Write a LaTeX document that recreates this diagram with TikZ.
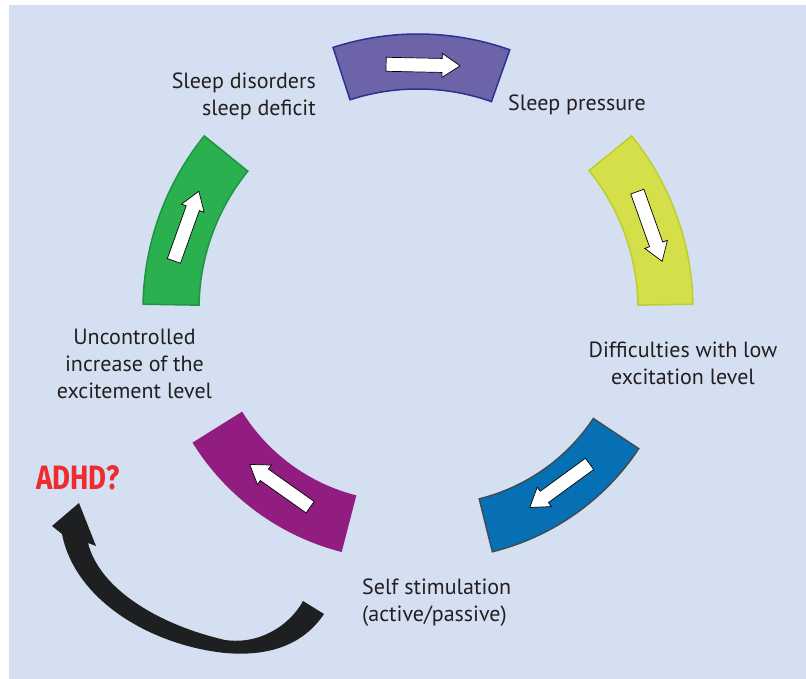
\documentclass[tikz,border=0pt]{standalone}
\usepackage{fontspec}
\setmainfont{PT Sans}
\newfontfamily\adhdfont{Fira Sans}
\usetikzlibrary{calc}
\definecolor{bg}{HTML}{D4E0F1}
\definecolor{txt}{HTML}{231F20}
\definecolor{purplefill}{HTML}{6C63A8}
\definecolor{purpleline}{HTML}{2E3192}
\definecolor{yellowfill}{HTML}{D4DF4A}
\definecolor{yellowline}{HTML}{BCCF2F}
\definecolor{bluefill}{HTML}{0770B4}
\definecolor{blueline}{HTML}{3D4D57}
\definecolor{magentafill}{HTML}{911D80}
\definecolor{greenfill}{HTML}{2AB04F}
\definecolor{greenline}{HTML}{1F9444}
\definecolor{adhdred}{HTML}{EE2B2F}
\definecolor{curvearrow}{HTML}{1E1F21}
\newcommand\ringseg[6]{% style, center, a1, a2, r1, r2
  \draw[#1] ([shift={(#3:#5pt)}]#2) arc[start angle=#3, end angle=#4, radius=#5pt]
    -- ([shift={(#4:#6pt)}]#2) arc[start angle=#4, end angle=#3, radius=#6pt] -- cycle;}
\newcommand\cycarrow[3]{% center, angle, radius
  \draw[warrow, shift={(#1)}, rotate=#2] (#3-7,37) -- (#3-7,-19) -- (#3-12,-19) -- (#3,-37)
    -- (#3+12,-19) -- (#3+7,-19) -- (#3+7,37) -- cycle;}
\begin{document}
\begin{tikzpicture}[x=1pt,y=1pt,
  lbl/.style={text=txt, font=\fontsize{22}{27}\selectfont, inner sep=0pt},
  seg/.style={line width=1.5pt, line join=miter},
  warrow/.style={fill=white, draw=black, line width=0.7pt, line join=miter}]
\useasboundingbox (0,0) rectangle (806,679);
\fill[bg] (9,0) rectangle (806,674);
\coordinate (c1) at (418,370);
\coordinate (c2) at (433,367);
\coordinate (c3) at (403,367);
% ring segments
\ringseg{seg, fill=purplefill, draw=purpleline}{c1}{70.5}{108}{220}{275}
\ringseg{seg, fill=yellowfill, draw=yellowline}{c1}{1}{39}{220}{275}
\ringseg{seg, fill=bluefill, draw=blueline}{c2}{-33.6}{-76.1}{192.5}{247}
\ringseg{seg, fill=magentafill, draw=magentafill}{c3}{-104.5}{-148}{190}{247}
\ringseg{seg, fill=greenfill, draw=greenline}{c1}{141}{179}{219}{275}
% white arrows
\cycarrow{c1}{88.8}{244}
\cycarrow{c1}{19.6}{246}
\cycarrow{c2}{-53.9}{215}
\cycarrow{c3}{-125.3}{213}
\cycarrow{c1}{160.3}{246}
% labels (base anchor = baseline of the last line)
\node[lbl, anchor=base east, align=right] (sleepdis) at (316,563) {Sleep disorders\\sleep deficit};
\node[lbl, anchor=base west] (sleeppress) at (508,568) {Sleep pressure};
\node[lbl, anchor=base, align=center] (difficult) at (683,294) {Difficulties with low\\excitation level};
\node[lbl, anchor=base west, align=left] (selfstim) at (362,57) {Self stimulation\\(active/passive)};
\node[lbl, anchor=base, align=center] (uncontrol) at (134.5,280) {Uncontrolled\\increase of the\\excitement level};
\node[anchor=base west, inner sep=0pt, text=adhdred] (adhd) at (36,189) {\resizebox{83pt}{24pt}{\adhdfont\bfseries ADHD?}};
% black curved arrow
\coordinate (tailin) at (303,78);
\coordinate (tailout) at (324,65);
\coordinate (tip) at (79,176);
\fill[curvearrow] (tailout) .. controls (300,29) and (260,23) .. (225,26)
  .. controls (150,34) and (75,79) .. (62,145) -- (52,153) -- (tip) -- (96,133) -- (88,136)
  .. controls (100,89) and (160,54) .. (225,39) .. controls (260,34) and (290,54) .. (tailin) -- cycle;
\end{tikzpicture}
\end{document}
